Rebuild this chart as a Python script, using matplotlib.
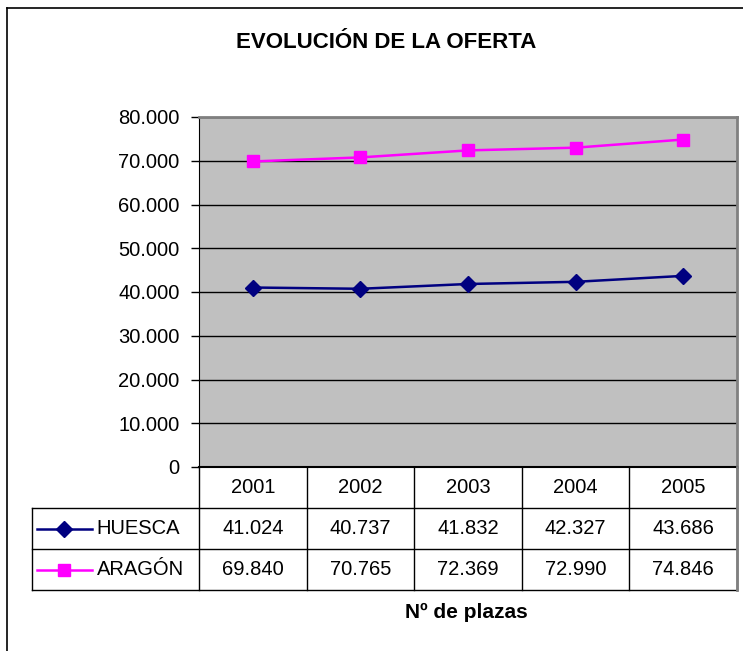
import numpy as np
import matplotlib.pyplot as plt
from matplotlib.lines import Line2D

plt.rcParams['font.family'] = ['Liberation Sans', 'DejaVu Sans']

years = ['2001', '2002', '2003', '2004', '2005']
huesca = [41024, 40737, 41832, 42327, 43686]
aragon = [69840, 70765, 72369, 72990, 74846]
series_names = ['HUESCA', 'ARAGÓN']
y_ticks = [0, 10000, 20000, 30000, 40000, 50000, 60000, 70000, 80000]

W, H = 743, 651
fig = plt.figure(figsize=(W / 100, H / 100), dpi=100)

def px(x0, y0, x1, y1):
    # pixel box (top-left origin) -> figure fraction rect
    return [x0 / W, 1 - y1 / H, (x1 - x0) / W, (y1 - y0) / H]

# outer chart frame (cut at right/bottom like the screenshot)
fig.add_artist(Line2D([7 / W, 7 / W], [0, 1 - 8 / H], color='black', lw=1.2,
                      transform=fig.transFigure))
fig.add_artist(Line2D([7 / W, 1], [1 - 8 / H, 1 - 8 / H], color='black', lw=1.2,
                      transform=fig.transFigure))

fig.text(386 / W, 1 - 42 / H, 'EVOLUCIÓN DE LA OFERTA', ha='center', va='center',
         fontsize=16, fontweight='bold')

fs = 14.5
ax = fig.add_axes(px(199, 117, 737, 467))
x = np.arange(1, len(years) + 1)
ax.set_facecolor('#C0C0C0')
ax.plot(x, huesca, color='#000080', marker='D', markersize=8, lw=1.8, zorder=3)
ax.plot(x, aragon, color='#FF00FF', marker='s', markersize=9, lw=1.8, zorder=3)
ax.set_xlim(0.5, len(years) + 0.5)
ax.set_ylim(0, 80000)
ax.set_yticks(y_ticks)
ax.set_yticklabels(['0'] + [f'{v // 1000}.000' for v in y_ticks[1:]], fontsize=fs)
ax.set_xticks([])
ax.grid(axis='y', color='black', lw=1)
ax.set_axisbelow(True)
ax.tick_params(axis='y', direction='out', length=6, width=1, pad=8)
for s in ['top', 'right']:
    ax.spines[s].set_color('#808080')
    ax.spines[s].set_linewidth(2)
ax.spines['left'].set_color('black')
ax.spines['bottom'].set_color('black')
ax.spines['bottom'].set_linewidth(1.5)

# data table below the plot
tb = fig.add_axes(px(199, 467, 737, 590))
tb.set_xlim(0.5, len(years) + 0.5)
tb.set_ylim(0, 3)
tb.axis('off')
step = 537 / len(years)
left = 0.5 - (199 - 32) / step
kw = dict(color='black', lw=1, clip_on=False)
for yy in [2, 1]:
    tb.plot([left, 5.5], [yy, yy], **kw)
tb.plot([left, 5.5], [0, 0], **kw)
tb.plot([left, left], [0, 2], **kw)
for xx in np.arange(0.5, len(years) + 1, 1):
    tb.plot([xx, xx], [0, 3], **kw)
tb.plot([5.5, 5.5], [0, 3], color='#808080', lw=2, clip_on=False)

for i, yr in enumerate(years):
    tb.text(x[i], 2.5, yr, ha='center', va='center', fontsize=fs)
    tb.text(x[i], 1.5, f'{huesca[i] / 1000:.3f}', ha='center', va='center', fontsize=fs)
    tb.text(x[i], 0.5, f'{aragon[i] / 1000:.3f}', ha='center', va='center', fontsize=fs)

l0 = left + 5 / step
l1 = left + 60 / step
tb.plot([l0, l1], [1.5, 1.5], color='#000080', lw=1.8, clip_on=False)
tb.plot([(l0 + l1) / 2], [1.5], color='#000080', marker='D', markersize=8, clip_on=False)
tb.plot([l0, l1], [0.5, 0.5], color='#FF00FF', lw=1.8, clip_on=False)
tb.plot([(l0 + l1) / 2], [0.5], color='#FF00FF', marker='s', markersize=9, clip_on=False)
tb.text(left + 65 / step, 1.5, series_names[0], ha='left', va='center', fontsize=fs)
tb.text(left + 65 / step, 0.5, series_names[1], ha='left', va='center', fontsize=fs)

fig.text(466 / W, 1 - 612 / H, 'Nº de plazas', ha='center', va='center',
         fontsize=15, fontweight='bold')

fig.savefig('out.png', dpi=100)
